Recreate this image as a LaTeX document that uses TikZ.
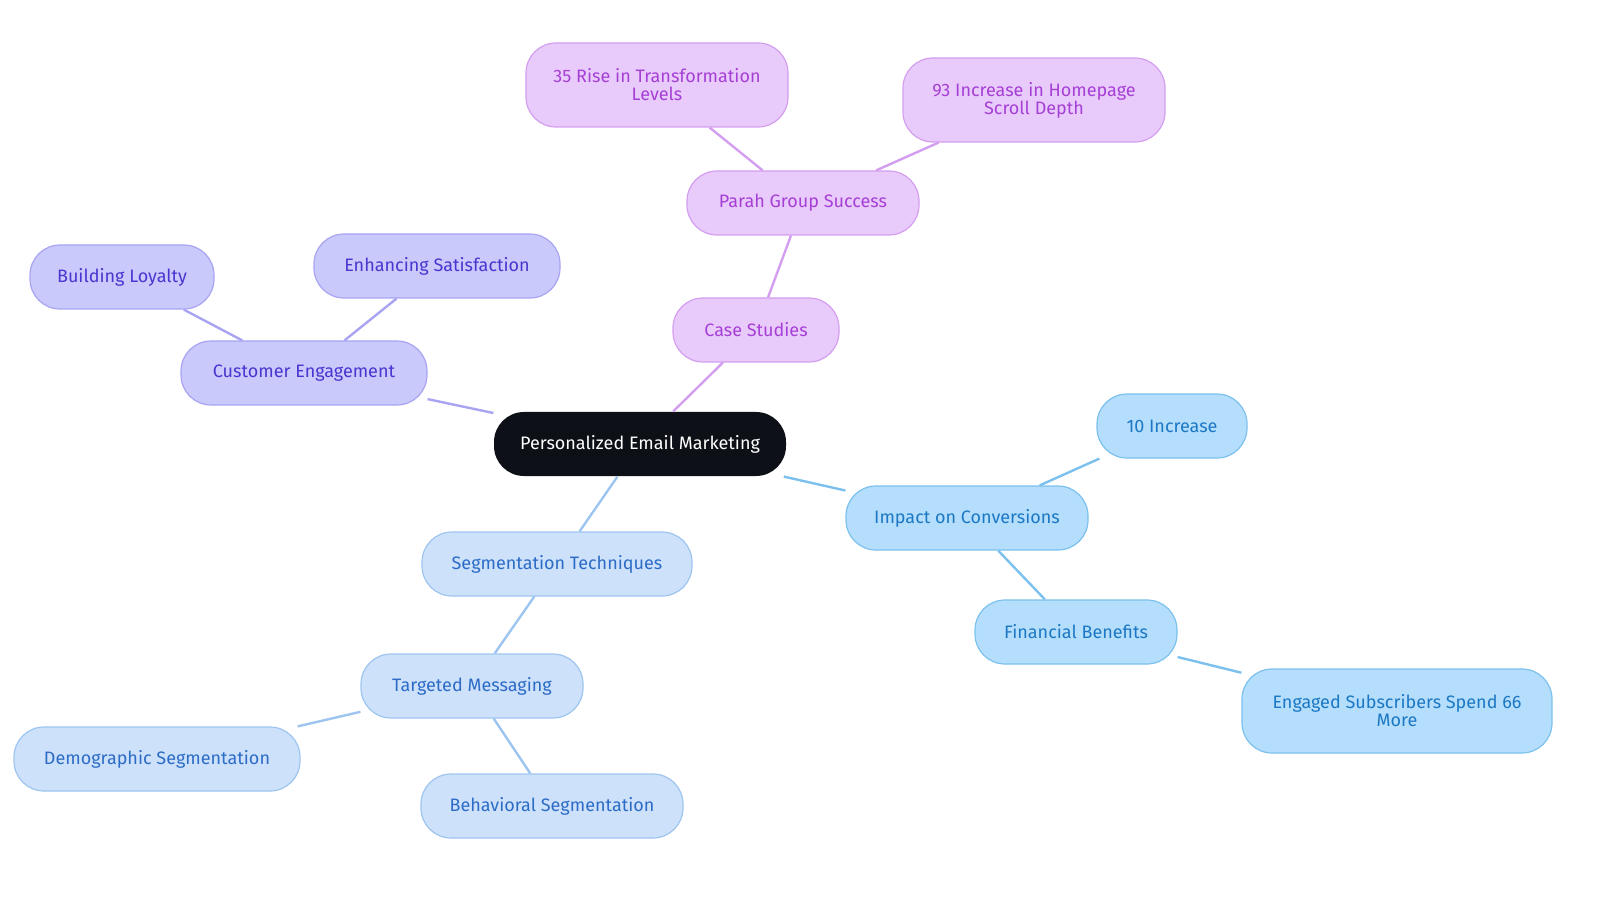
\documentclass[tikz,border=0pt]{standalone}
\usepackage{fontspec}
\setmainfont{Fira Sans}
\usetikzlibrary{positioning}
\definecolor{rootc}{HTML}{0D1117}
\definecolor{engfill}{HTML}{C9C9FB}\definecolor{engline}{HTML}{A9A4F2}\definecolor{engtext}{HTML}{4A35D0}
\definecolor{casefill}{HTML}{E8CBFB}\definecolor{caseline}{HTML}{D49EF0}\definecolor{casetext}{HTML}{A63FD6}
\definecolor{impfill}{HTML}{B4DEFB}\definecolor{impline}{HTML}{7CC0EE}\definecolor{imptext}{HTML}{1C78C4}
\definecolor{segfill}{HTML}{CDE1FB}\definecolor{segline}{HTML}{9EC4F0}\definecolor{segtext}{HTML}{2C6CC6}
\tikzset{
  box/.style={rounded corners=15pt, minimum height=32pt, align=center, font=\fontsize{9}{9}\selectfont, line width=0.6pt},
  eng/.style={box, fill=engfill, draw=engline, text=engtext},
  cas/.style={box, fill=casefill, draw=caseline, text=casetext},
  imp/.style={box, fill=impfill, draw=impline, text=imptext},
  seg/.style={box, fill=segfill, draw=segline, text=segtext},
}
\begin{document}
\begin{tikzpicture}[x=0.5pt,y=-0.5pt]
% center
\node[box, fill=rootc, text=white, minimum width=146pt] (root) at (640,444) {Personalized Email Marketing};
% customer engagement
\node[eng, minimum width=123pt] (ce) at (304,373) {Customer Engagement};
\node[eng, minimum width=92pt] (bl) at (122,277) {Building Loyalty};
\node[eng, minimum width=123pt] (es) at (437,266) {Enhancing Satisfaction};
% case studies
\node[cas, minimum width=83pt] (cs) at (756,330) {Case Studies};
\node[cas, minimum width=116pt] (pg) at (803,203) {Parah Group Success};
\node[cas, minimum width=131pt, minimum height=42pt] (rt) at (657,85) {35 Rise in Transformation\\Levels};
\node[cas, minimum width=131pt, minimum height=42pt] (hs) at (1034,100) {93 Increase in Homepage\\Scroll Depth};
% conversions
\node[imp, minimum width=121pt] (ic) at (967,518) {Impact on Conversions};
\node[imp, minimum width=75pt] (ti) at (1172,426) {10 Increase};
\node[imp, minimum width=101pt] (fb) at (1076,632) {Financial Benefits};
\node[imp, minimum width=155pt, minimum height=42pt] (sp) at (1397,711) {Engaged Subscribers Spend 66\\More};
% segmentation
\node[seg, minimum width=135pt] (st) at (557,564) {Segmentation Techniques};
\node[seg, minimum width=111pt] (tm) at (472,686) {Targeted Messaging};
\node[seg, minimum width=143pt] (ds) at (157,759) {Demographic Segmentation};
\node[seg, minimum width=131pt] (bs) at (552,806) {Behavioral Segmentation};
% connectors
\begin{scope}[line width=1.2pt]
\draw[engline] (root) -- (ce); \draw[engline] (ce) -- (bl); \draw[engline] (ce) -- (es);
\draw[caseline] (root) -- (cs); \draw[caseline] (cs) -- (pg); \draw[caseline] (pg) -- (rt); \draw[caseline] (pg) -- (hs);
\draw[impline] (root) -- (ic); \draw[impline] (ic) -- (ti); \draw[impline] (ic) -- (fb); \draw[impline] (fb) -- (sp);
\draw[segline] (root) -- (st); \draw[segline] (st) -- (tm); \draw[segline] (tm) -- (ds); \draw[segline] (tm) -- (bs);
\end{scope}
\pgfresetboundingbox
\useasboundingbox (0,0) rectangle (1600,903);
\end{tikzpicture}
\end{document}
